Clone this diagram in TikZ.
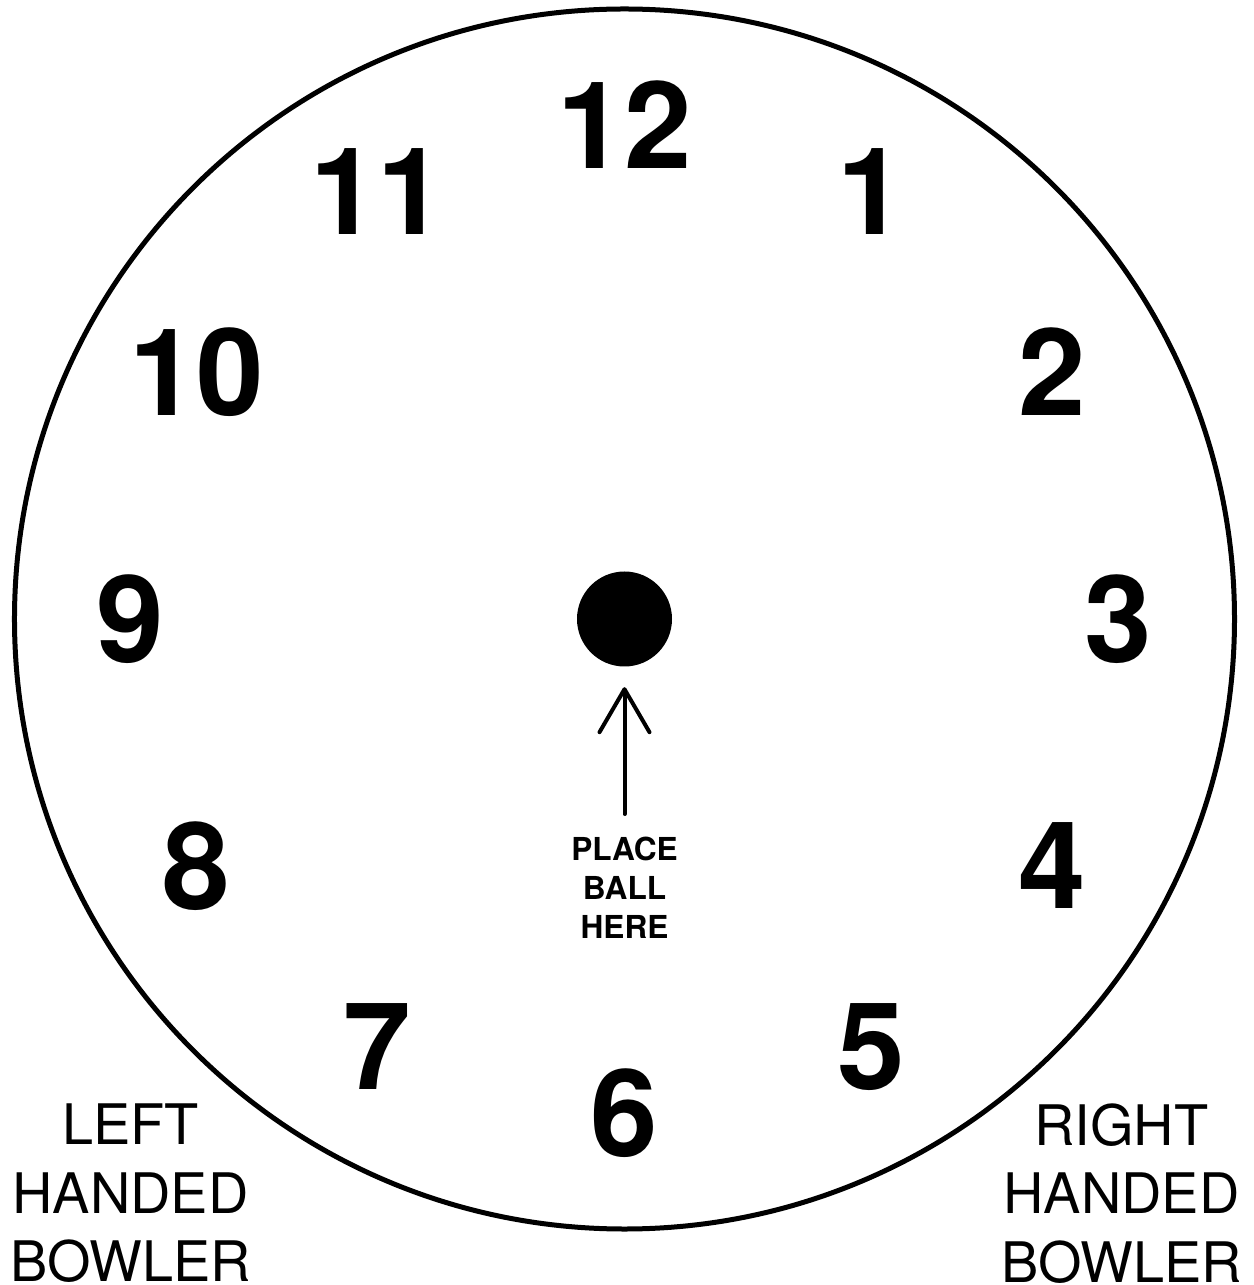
\documentclass[tikz,border=0pt]{standalone}
\usepackage{fontspec}
\setmainfont{TeX Gyre Heros}
\usetikzlibrary{arrows.meta}
\begin{document}
\begin{tikzpicture}[line join=round, line cap=round, >={Straight Barb[length=4.3mm,width=5mm,round]}]
	\tikzset{hour/.style={font=\fontsize{34.5}{40}\selectfont\bfseries, inner sep=0pt},
		side/.style={font=\fontsize{15.9}{19.5}\selectfont, align=center, inner sep=0pt},
		hint/.style={font=\fontsize{9}{11.1}\selectfont\bfseries, align=center, inner sep=0pt}
	}
	\useasboundingbox (-6.245,-6.66) rectangle (6.285,6.19);
	\draw[line width=0.05cm] (0,0) circle (6.1);
	\foreach \h in {1,...,12} \node[hour] (h\h) at ({90-30*\h}:4.94) {\h};
	\node[circle, fill, minimum size=0.95cm, inner sep=0pt] (ball) at (0,0) {};
	\node[hint] (place) at (0,-2.685) {PLACE\\BALL\\HERE};
	\coordinate (tail) at (0,-1.95);
	\draw[->, line width=0.04cm, shorten >=0.2cm] (tail) -- (ball);
	\node[side] (left) at (-4.94,-5.745) {LEFT\\HANDED\\BOWLER};
	\node[side] (right) at (4.97,-5.745) {RIGHT\\HANDED\\BOWLER};
\end{tikzpicture}
\end{document}
